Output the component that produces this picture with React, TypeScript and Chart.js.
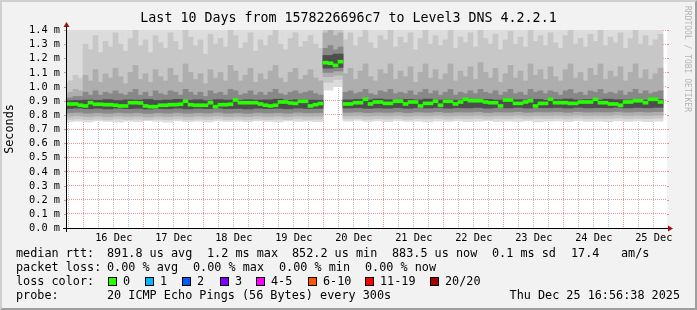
import React, { useEffect, useRef } from 'react';
import { Chart, registerables } from 'chart.js';

Chart.register(...registerables);

const W = 697;
const H = 310;

// ---------- texts ----------
const TITLE = 'Last 10 Days from 1578226696c7 to Level3 DNS 4.2.2.1';
const Y_UNIT_LABEL = 'Seconds';
const WATERMARK = 'RRDTOOL / TOBI OETIKER';

// ---------- time axis (hours relative to 16 Dec 00:00) ----------
const AXIS_START_H = -6.7;
const AXIS_END_H = 233.3;
const dayLabels = ['16 Dec', '17 Dec', '18 Dec', '19 Dec', '20 Dec', '21 Dec', '22 Dec', '23 Dec', '24 Dec', '25 Dec'];
const dayLabelHours = [12, 36, 60, 84, 108, 132, 156, 180, 204, 228];
const yTickValues = [0.0, 0.1, 0.2, 0.3, 0.4, 0.5, 0.6, 0.7, 0.8, 0.9, 1.0, 1.1, 1.2, 1.3, 1.4];
const Y_MIN = 0;
const Y_MAX = 1.4;

// ---------- median rtt (ms), 2 hour bins ----------
const MEDIAN_START_H = -8.3;
const MEDIAN_STEP_H = 2;
const medianRtt = [
  0.877, 0.877, 0.877, 0.868, 0.863, 0.886, 0.875, 0.875, 0.872, 0.872,
  0.868, 0.863, 0.863, 0.886, 0.886, 0.884, 0.863, 0.858, 0.858, 0.868,
  0.868, 0.872, 0.872, 0.875, 0.896, 0.872, 0.868, 0.868, 0.868, 0.886,
  0.858, 0.872, 0.872, 0.875, 0.905, 0.886, 0.886, 0.886, 0.886, 0.877,
  0.868, 0.863, 0.868, 0.891, 0.891, 0.884, 0.881, 0.896, 0.896, 0.863,
  0.872, 0.880, 1.169, 1.165, 1.150, 1.176, 0.877, 0.877, 0.886, 0.886,
  0.910, 0.877, 0.891, 0.891, 0.881, 0.881, 0.896, 0.896, 0.877, 0.891,
  0.891, 0.863, 0.881, 0.881, 0.896, 0.868, 0.896, 0.896, 0.877, 0.891,
  0.910, 0.900, 0.900, 0.900, 0.891, 0.886, 0.886, 0.863, 0.905, 0.905,
  0.881, 0.881, 0.891, 0.900, 0.863, 0.881, 0.881, 0.910, 0.886, 0.886,
  0.886, 0.881, 0.881, 0.891, 0.891, 0.891, 0.910, 0.886, 0.886, 0.877,
  0.877, 0.868, 0.891, 0.891, 0.900, 0.900, 0.886, 0.910, 0.910, 0.891,
];

// ---------- smoke upper edges (ms), 2 hour bins (same bins as median) ----------
const smoke2Hi = [
  1.02, 1.04, 1.08, 1.06, 1.30, 1.26, 1.36, 1.24, 1.32, 1.28,
  1.38, 1.30, 1.25, 1.34, 1.40, 1.29, 1.33, 1.24, 1.36, 1.31,
  1.27, 1.38, 1.32, 1.26, 1.40, 1.35, 1.29, 1.33, 1.23, 1.37,
  1.30, 1.34, 1.28, 1.40, 1.36, 1.27, 1.31, 1.38, 1.25, 1.33,
  1.29, 1.36, 1.40, 1.30, 1.26, 1.34, 1.38, 1.28, 1.32, 1.36,
  1.30, 1.27, 1.50, 1.50, 1.50, 1.50, 1.33, 1.38, 1.29, 1.35,
  1.40, 1.31, 1.27, 1.36, 1.33, 1.40, 1.28, 1.35, 1.31, 1.38,
  1.26, 1.34, 1.40, 1.30, 1.36, 1.29, 1.33, 1.40, 1.27, 1.35,
  1.31, 1.38, 1.28, 1.40, 1.34, 1.30, 1.37, 1.26, 1.33, 1.39,
  1.30, 1.35, 1.28, 1.40, 1.32, 1.36, 1.29, 1.38, 1.31, 1.27,
  1.36, 1.40, 1.30, 1.34, 1.28, 1.37, 1.32, 1.40, 1.29, 1.35,
  1.31, 1.38, 1.27, 1.34, 1.40, 1.30, 1.36, 1.29, 1.33, 1.37,
];
const smoke3Hi = [
  0.95, 0.96, 0.98, 0.97, 1.08, 1.04, 1.12, 1.03, 1.09, 1.06,
  1.13, 1.07, 1.02, 1.10, 1.15, 1.05, 1.09, 1.03, 1.12, 1.07,
  1.04, 1.13, 1.08, 1.03, 1.16, 1.10, 1.05, 1.09, 1.02, 1.12,
  1.06, 1.10, 1.04, 1.15, 1.11, 1.04, 1.08, 1.13, 1.03, 1.09,
  1.05, 1.11, 1.15, 1.06, 1.03, 1.10, 1.13, 1.05, 1.08, 1.12,
  1.06, 1.04, 1.38, 1.40, 1.36, 1.38, 1.09, 1.13, 1.05, 1.11,
  1.16, 1.07, 1.04, 1.12, 1.09, 1.16, 1.05, 1.11, 1.07, 1.14,
  1.03, 1.10, 1.16, 1.06, 1.12, 1.05, 1.09, 1.16, 1.04, 1.11,
  1.07, 1.14, 1.05, 1.17, 1.10, 1.06, 1.13, 1.03, 1.09, 1.15,
  1.06, 1.11, 1.04, 1.16, 1.08, 1.12, 1.05, 1.14, 1.07, 1.04,
  1.12, 1.16, 1.06, 1.10, 1.04, 1.13, 1.08, 1.16, 1.05, 1.11,
  1.07, 1.14, 1.04, 1.10, 1.16, 1.06, 1.12, 1.05, 1.09, 1.13,
];
const smoke4Hi = [
  0.92, 0.92, 0.93, 0.93, 0.96, 0.94, 0.97, 0.94, 0.96, 0.95,
  0.97, 0.95, 0.94, 0.96, 0.98, 0.94, 0.96, 0.93, 0.97, 0.95,
  0.94, 0.97, 0.96, 0.94, 0.98, 0.96, 0.94, 0.96, 0.93, 0.97,
  0.95, 0.96, 0.94, 0.98, 0.97, 0.94, 0.95, 0.97, 0.94, 0.96,
  0.94, 0.96, 0.98, 0.95, 0.94, 0.96, 0.97, 0.95, 0.96, 0.97,
  0.95, 0.94, 1.27, 1.29, 1.26, 1.28, 0.96, 0.97, 0.95, 0.96,
  0.98, 0.95, 0.94, 0.97, 0.96, 0.98, 0.95, 0.96, 0.95, 0.97,
  0.94, 0.96, 0.98, 0.95, 0.97, 0.94, 0.96, 0.98, 0.94, 0.96,
  0.95, 0.97, 0.95, 0.98, 0.96, 0.95, 0.97, 0.94, 0.96, 0.98,
  0.95, 0.96, 0.94, 0.98, 0.96, 0.97, 0.95, 0.97, 0.96, 0.94,
  0.97, 0.98, 0.95, 0.96, 0.94, 0.97, 0.96, 0.98, 0.95, 0.96,
  0.95, 0.97, 0.94, 0.96, 0.98, 0.95, 0.97, 0.95, 0.96, 0.97,
];

// ---------- smoke lower edges + core (ms), 4 hour bins ----------
const SMOKE_START_H = -8.3;
const SMOKE_STEP_H = 4;
const smoke1Lo = [
  0.752, 0.755, 0.750, 0.758, 0.753, 0.748, 0.756, 0.752, 0.760, 0.754,
  0.749, 0.757, 0.752, 0.755, 0.750, 0.758, 0.753, 0.756, 0.751, 0.757,
  0.754, 0.750, 0.758, 0.753, 0.756, 0.752, 0.975, 1.000, 0.755, 0.760,
  0.753, 0.757, 0.751, 0.759, 0.754, 0.756, 0.750, 0.758, 0.753, 0.757,
  0.752, 0.755, 0.759, 0.751, 0.756, 0.753, 0.758, 0.750, 0.755, 0.757,
  0.752, 0.759, 0.754, 0.756, 0.751, 0.757, 0.753, 0.758, 0.752, 0.756,
];
const smoke1Hi = [
  1.5, 1.5, 1.5, 1.5, 1.5, 1.5, 1.5, 1.5, 1.5, 1.5,
  1.5, 1.5, 1.5, 1.5, 1.5, 1.5, 1.5, 1.5, 1.5, 1.5,
  1.5, 1.5, 1.5, 1.5, 1.5, 1.5, 1.5, 1.5, 1.5, 1.5,
  1.5, 1.5, 1.5, 1.5, 1.5, 1.5, 1.5, 1.5, 1.5, 1.5,
  1.5, 1.5, 1.5, 1.5, 1.5, 1.5, 1.5, 1.5, 1.5, 1.5,
  1.5, 1.5, 1.5, 1.5, 1.5, 1.5, 1.5, 1.5, 1.5, 1.5,
];
const smoke2Lo = [
  0.768, 0.771, 0.766, 0.770, 0.765, 0.771, 0.767, 0.770, 0.764, 0.769,
  0.766, 0.771, 0.765, 0.770, 0.767, 0.772, 0.766, 0.769, 0.765, 0.771,
  0.767, 0.770, 0.766, 0.772, 0.768, 0.770, 1.030, 1.050, 0.771, 0.774,
  0.769, 0.773, 0.770, 0.775, 0.769, 0.774, 0.771, 0.776, 0.770, 0.774,
  0.772, 0.776, 0.770, 0.775, 0.772, 0.777, 0.771, 0.775, 0.773, 0.776,
  0.771, 0.777, 0.772, 0.775, 0.773, 0.778, 0.772, 0.776, 0.773, 0.777,
];
const smoke3Lo = [
  0.790, 0.793, 0.787, 0.791, 0.786, 0.792, 0.788, 0.791, 0.785, 0.790,
  0.787, 0.792, 0.786, 0.791, 0.788, 0.793, 0.787, 0.790, 0.786, 0.792,
  0.788, 0.791, 0.787, 0.793, 0.789, 0.791, 1.070, 1.080, 0.793, 0.795,
  0.791, 0.794, 0.792, 0.796, 0.791, 0.795, 0.793, 0.797, 0.792, 0.795,
  0.794, 0.797, 0.792, 0.796, 0.794, 0.798, 0.793, 0.796, 0.795, 0.797,
  0.793, 0.798, 0.794, 0.796, 0.795, 0.799, 0.794, 0.797, 0.795, 0.798,
];
const smoke4Lo = [
  0.815, 0.818, 0.812, 0.816, 0.811, 0.817, 0.813, 0.816, 0.810, 0.815,
  0.812, 0.817, 0.811, 0.816, 0.813, 0.818, 0.812, 0.815, 0.811, 0.817,
  0.813, 0.816, 0.812, 0.818, 0.814, 0.816, 1.100, 1.110, 0.818, 0.820,
  0.816, 0.819, 0.817, 0.821, 0.816, 0.820, 0.818, 0.822, 0.817, 0.820,
  0.819, 0.822, 0.817, 0.821, 0.819, 0.823, 0.818, 0.821, 0.820, 0.822,
  0.818, 0.823, 0.819, 0.821, 0.820, 0.824, 0.819, 0.822, 0.820, 0.823,
];
const smoke5Lo = [
  0.845, 0.848, 0.843, 0.846, 0.842, 0.847, 0.844, 0.846, 0.841, 0.845,
  0.843, 0.847, 0.842, 0.846, 0.844, 0.848, 0.843, 0.845, 0.842, 0.847,
  0.844, 0.846, 0.843, 0.848, 0.845, 0.846, 1.130, 1.135, 0.848, 0.850,
  0.846, 0.849, 0.847, 0.851, 0.846, 0.850, 0.848, 0.852, 0.847, 0.850,
  0.849, 0.852, 0.847, 0.851, 0.849, 0.853, 0.848, 0.851, 0.850, 0.852,
  0.848, 0.853, 0.849, 0.851, 0.850, 0.854, 0.849, 0.852, 0.850, 0.853,
];
const smoke5Hi = [
  0.900, 0.902, 0.905, 0.903, 0.908, 0.901, 0.906, 0.904, 0.909, 0.902,
  0.905, 0.910, 0.903, 0.907, 0.900, 0.908, 0.905, 0.902, 0.907, 0.904,
  0.906, 0.911, 0.903, 0.907, 0.905, 0.904, 1.220, 1.230, 0.906, 0.909,
  0.905, 0.912, 0.907, 0.903, 0.910, 0.906, 0.912, 0.905, 0.909, 0.904,
  0.910, 0.906, 0.909, 0.904, 0.913, 0.907, 0.905, 0.910, 0.903, 0.908,
  0.912, 0.906, 0.908, 0.904, 0.911, 0.907, 0.905, 0.910, 0.904, 0.908,
];

// ---------- legend ----------
const rttStats = ['median rtt:', '891.8 us avg', '1.2 ms max', '852.2 us min', '883.5 us now', '0.1 ms sd', '17.4', 'am/s'];
const lossStats = ['packet loss:', '0.00 % avg', '0.00 % max', '0.00 % min', '0.00 % now'];
const lossColorLabel = 'loss color:';
const lossBuckets = ['0', '1', '2', '3', '4-5', '6-10', '11-19', '20/20'];
const lossColors = ['#26ff00', '#00b8ff', '#0059ff', '#7e00ff', '#ff00ff', '#ff5500', '#ff0000', '#a10000'];
const probeLabel = 'probe:';
const probeText = '20 ICMP Echo Pings (56 Bytes) every 300s';
const timestamp = 'Thu Dec 25 16:56:38 2025';

// ---------- layout / style ----------
const PLOT_LEFT = 67;
const PLOT_TOP = 30;
const PLOT_RIGHT = 667;
const PLOT_BOTTOM = 228;
const MONO = '"DejaVu Sans Mono", monospace';
const AXIS_FONT = 10.3;
const LEGEND_FONT = 11.8;
const TITLE_FONT = 13.3;
const MGRID = 'rgba(215,60,60,0.55)';
const GRID = 'rgba(140,140,140,0.55)';
const ARROW = '#a01010';
const SMOKE_COLORS = ['#dcdcdc', '#c7c7c7', '#aeaeae', '#888888', '#4e4e4e'];
const MEDIAN_HALF = 0.0106; // half of 3px line thickness in ms
const rttX = [16, 107, 207, 292, 392, 492, 571, 621];
const lossX = [16, 107, 193, 279, 365];
const swatchX = [108, 145, 182, 220, 256, 308, 365, 430];
const rowY = [254, 268, 282, 296];

const binCenters = (start: number, step: number, n: number) =>
  Array.from({ length: n }, (_, i) => start + step * (i + 0.5));

const framePlugin = {
  id: 'rrdFrame',
  beforeDraw(chart: any) {
    const ctx = chart.ctx;
    ctx.save();
    ctx.fillStyle = '#f2f2f2';
    ctx.fillRect(0, 0, W, H);
    ctx.fillStyle = '#cfcfcf';
    ctx.beginPath();
    ctx.moveTo(0, 0); ctx.lineTo(W, 0); ctx.lineTo(W - 2, 2); ctx.lineTo(2, 2); ctx.lineTo(2, H - 2); ctx.lineTo(0, H);
    ctx.closePath(); ctx.fill();
    ctx.fillStyle = '#9e9e9e';
    ctx.beginPath();
    ctx.moveTo(W, 0); ctx.lineTo(W, H); ctx.lineTo(0, H); ctx.lineTo(2, H - 2); ctx.lineTo(W - 2, H - 2); ctx.lineTo(W - 2, 2);
    ctx.closePath(); ctx.fill();
    const a = chart.chartArea;
    ctx.fillStyle = '#ffffff';
    ctx.fillRect(a.left, a.top, a.right - a.left, a.bottom - a.top);
    ctx.restore();
  },
  afterDraw(chart: any) {
    const ctx = chart.ctx;
    const a = chart.chartArea;
    const xs = chart.scales.x;
    const ys = chart.scales.y;
    ctx.save();

    ctx.lineWidth = 1;
    yTickValues.forEach((v) => {
      const py = Math.round(ys.getPixelForValue(v)) + 0.5;
      ctx.strokeStyle = MGRID;
      ctx.beginPath(); ctx.moveTo(a.left - 3, py); ctx.lineTo(a.left, py); ctx.stroke();
      ctx.beginPath(); ctx.moveTo(a.right, py); ctx.lineTo(a.right + 2, py); ctx.stroke();
    });

    ctx.strokeStyle = '#000';
    ctx.beginPath();
    ctx.moveTo(a.left - 4, a.bottom + 0.5); ctx.lineTo(a.right + 2, a.bottom + 0.5);
    ctx.moveTo(a.left - 0.5, a.bottom + 4); ctx.lineTo(a.left - 0.5, a.top - 4);
    ctx.stroke();
    ctx.fillStyle = ARROW;
    ctx.beginPath();
    ctx.moveTo(a.right + 1, a.bottom - 2.5); ctx.lineTo(a.right + 6, a.bottom + 0.5); ctx.lineTo(a.right + 1, a.bottom + 3.5);
    ctx.closePath(); ctx.fill();
    ctx.beginPath();
    ctx.moveTo(a.left - 3.5, a.top - 3); ctx.lineTo(a.left - 0.5, a.top - 8); ctx.lineTo(a.left + 2.5, a.top - 3);
    ctx.closePath(); ctx.fill();

    ctx.fillStyle = '#000';
    ctx.font = `${AXIS_FONT}px ${MONO}`;
    ctx.textAlign = 'right';
    ctx.textBaseline = 'middle';
    yTickValues.forEach((v) => {
      ctx.fillText(`${v.toFixed(1)} m`, a.left - 7, ys.getPixelForValue(v) + 0.5);
    });
    ctx.textAlign = 'center';
    dayLabels.forEach((lab, i) => {
      ctx.fillText(lab, xs.getPixelForValue(dayLabelHours[i]), a.bottom + 10);
    });

    ctx.font = `${TITLE_FONT}px ${MONO}`;
    ctx.fillText(TITLE, W / 2, 19);

    ctx.save();
    ctx.font = `${LEGEND_FONT}px ${MONO}`;
    ctx.translate(10, (a.top + a.bottom) / 2);
    ctx.rotate(-Math.PI / 2);
    ctx.fillText(Y_UNIT_LABEL, 0, 0);
    ctx.restore();

    ctx.save();
    ctx.font = `8px ${MONO}`;
    ctx.fillStyle = '#b4b4b4';
    ctx.translate(687, 6);
    ctx.rotate(Math.PI / 2);
    ctx.textAlign = 'left';
    ctx.fillText(WATERMARK, 0, 0);
    ctx.restore();

    ctx.font = `${LEGEND_FONT}px ${MONO}`;
    ctx.textAlign = 'left';
    ctx.fillStyle = '#000';
    rttStats.forEach((t, i) => ctx.fillText(t, rttX[i], rowY[0]));
    lossStats.forEach((t, i) => ctx.fillText(t, lossX[i], rowY[1]));
    ctx.fillText(lossColorLabel, 16, rowY[2]);
    lossBuckets.forEach((t, i) => {
      const sx = swatchX[i];
      const top = rowY[2] - 5;
      ctx.fillStyle = lossColors[i];
      ctx.fillRect(sx, top, 9, 9);
      ctx.strokeStyle = '#000';
      ctx.strokeRect(sx + 0.5, top + 0.5, 8, 8);
      ctx.fillStyle = '#000';
      ctx.fillText(t, sx + 15, rowY[2]);
    });
    ctx.fillText(probeLabel, 16, rowY[3]);
    ctx.fillText(probeText, 107, rowY[3]);
    ctx.textAlign = 'right';
    ctx.fillText(timestamp, 680, rowY[3]);

    ctx.restore();
  },
};

const barBase = {
  type: 'bar',
  borderWidth: 0,
  grouped: false,
  barPercentage: 1,
  categoryPercentage: 1,
  yAxisID: 'y',
};

export default function App() {
  const ref = useRef<HTMLCanvasElement>(null);

  useEffect(() => {
    const canvas = ref.current;
    if (!canvas) return;
    const smokeHours = binCenters(SMOKE_START_H, SMOKE_STEP_H, smoke1Lo.length);
    const medianHours = binCenters(MEDIAN_START_H, MEDIAN_STEP_H, medianRtt.length);

    const lowerPart = (lo: number[], hi: number[], color: string, order: number) => ({
      ...barBase,
      data: smokeHours.map((x, i) => ({ x, y: [lo[i], hi[i]] })),
      backgroundColor: color,
      order,
      xAxisID: 'x',
    });
    const upperPart = (hi: number[], color: string, order: number) => ({
      ...barBase,
      data: medianHours.map((x, i) => ({ x, y: [medianRtt[i], hi[i]] })),
      backgroundColor: color,
      order,
      xAxisID: 'x2',
    });

    const datasets = [
      lowerPart(smoke1Lo, smoke1Hi, SMOKE_COLORS[0], 20),
      lowerPart(smoke2Lo, smoke5Hi, SMOKE_COLORS[1], 18),
      upperPart(smoke2Hi, SMOKE_COLORS[1], 17),
      lowerPart(smoke3Lo, smoke5Hi, SMOKE_COLORS[2], 16),
      upperPart(smoke3Hi, SMOKE_COLORS[2], 15),
      lowerPart(smoke4Lo, smoke5Hi, SMOKE_COLORS[3], 14),
      upperPart(smoke4Hi, SMOKE_COLORS[3], 13),
      lowerPart(smoke5Lo, smoke5Hi, SMOKE_COLORS[4], 12),
      {
        ...barBase,
        data: medianHours.map((x, i) => ({ x, y: [medianRtt[i] - MEDIAN_HALF, medianRtt[i] + MEDIAN_HALF] })),
        backgroundColor: lossColors[0],
        order: 0,
        xAxisID: 'x2',
      },
    ];

    const chart = new Chart(canvas, {
      type: 'bar',
      data: { datasets: datasets as any },
      plugins: [framePlugin],
      options: {
        animation: false,
        responsive: false,
        devicePixelRatio: 1,
        events: [],
        layout: { padding: { left: 0, top: PLOT_TOP, right: W - PLOT_RIGHT, bottom: 0 } },
        plugins: { legend: { display: false }, tooltip: { enabled: false }, title: { display: false } },
        scales: {
          x: {
            type: 'linear',
            position: 'bottom',
            min: AXIS_START_H,
            max: AXIS_END_H,
            offset: false,
            z: 1,
            grid: {
              offset: false,
              drawTicks: false,
              lineWidth: 1,
              color: (c: any) => ((((c.tick?.value ?? 0) % 24) + 24) % 24 === 0 ? MGRID : GRID),
            },
            border: { display: false, dash: [1, 1] },
            ticks: { display: false },
            afterBuildTicks: (s: any) => {
              const t = [];
              for (let h = Math.ceil(AXIS_START_H / 6) * 6; h <= AXIS_END_H; h += 6) t.push({ value: h });
              s.ticks = t;
            },
            afterFit: (s: any) => { s.height = H - PLOT_BOTTOM; },
          },
          x2: {
            type: 'linear',
            position: 'bottom',
            display: false,
            min: AXIS_START_H,
            max: AXIS_END_H,
            offset: false,
          },
          y: {
            type: 'linear',
            position: 'left',
            min: Y_MIN,
            max: Y_MAX,
            z: 1,
            grid: { drawTicks: false, lineWidth: 1, color: MGRID },
            border: { display: false, dash: [1, 1] },
            ticks: { display: false },
            afterBuildTicks: (s: any) => { s.ticks = yTickValues.map((v) => ({ value: v })); },
            afterFit: (s: any) => { s.width = PLOT_LEFT; },
          },
        },
      } as any,
    });
    return () => chart.destroy();
  }, []);

  return (
    <div style={{ position: 'fixed', left: 0, top: 0, width: W, height: H }}>
      <canvas ref={ref} width={W} height={H} style={{ display: 'block', width: W, height: H }} />
    </div>
  );
}
